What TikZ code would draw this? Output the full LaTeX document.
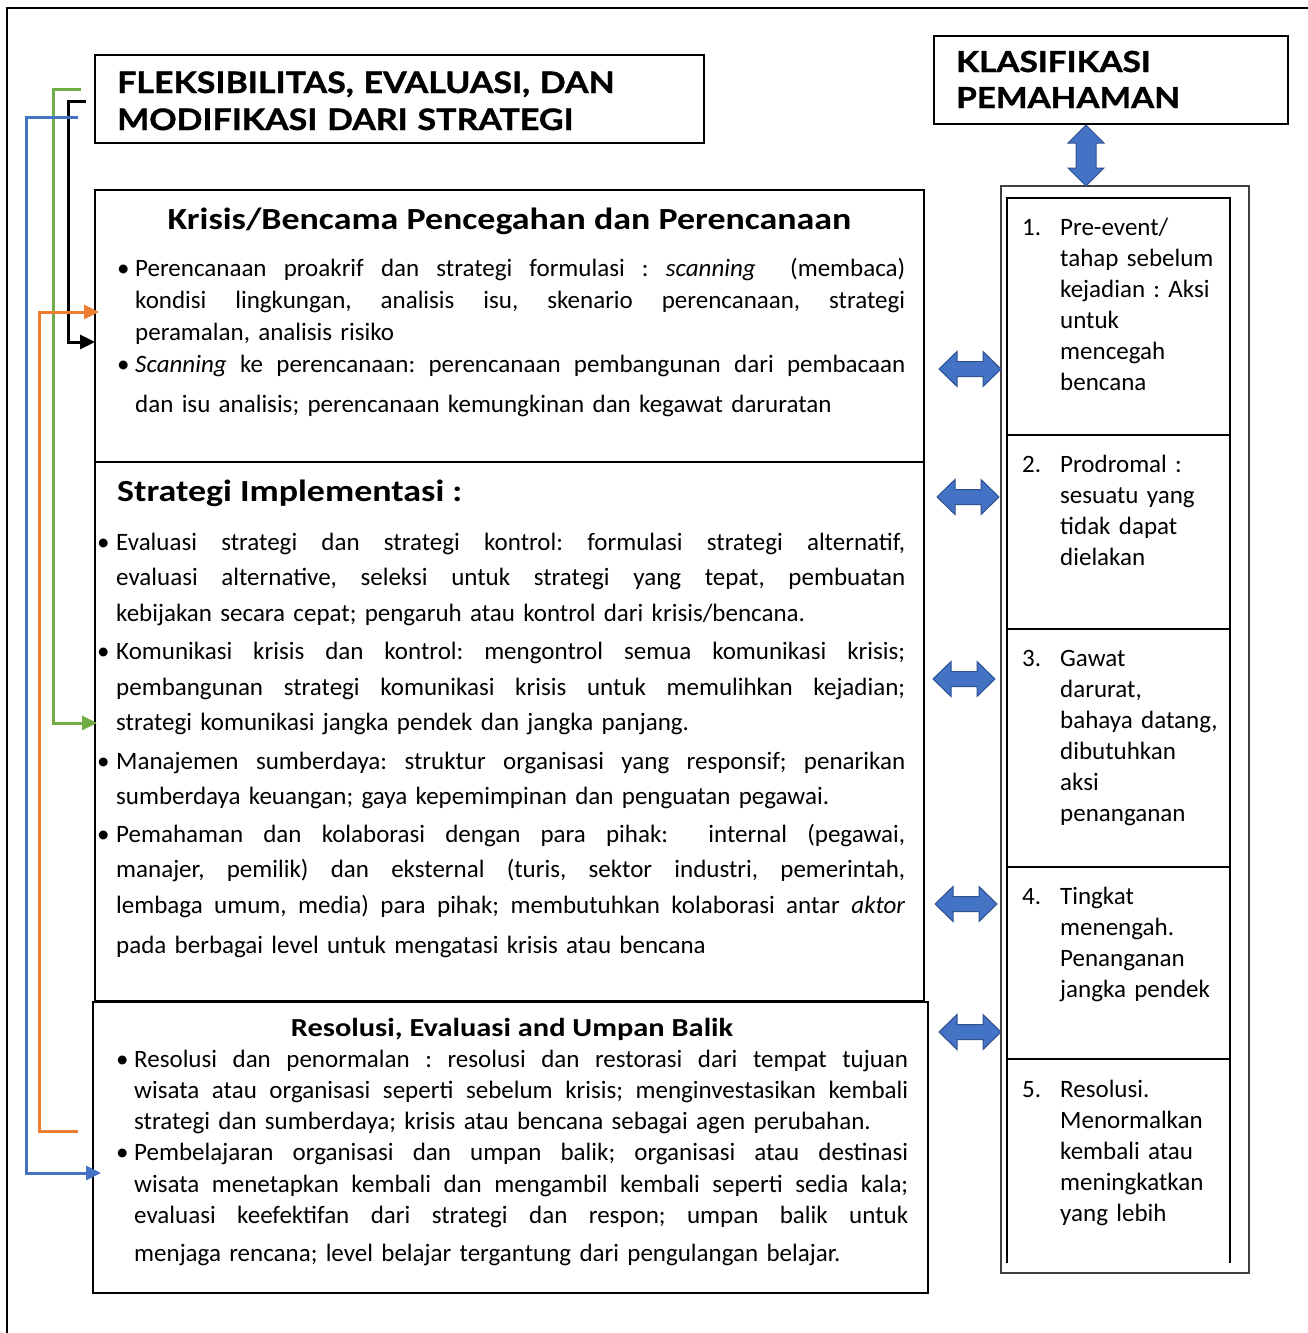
\documentclass[tikz,border=0pt]{standalone}
\usepackage{fontspec}
\setmainfont{Carlito}
\newfontfamily\capsfont{Lato}[FakeStretch=1.15, BoldFeatures={FakeBold=1.2}]
\newfontfamily\headfont{Carlito}[FakeStretch=1.17]
\usetikzlibrary{arrows.meta}
\definecolor{cgreen}{HTML}{70AD47}
\definecolor{corange}{HTML}{ED7D31}
\definecolor{cblue}{HTML}{4472C4}
\definecolor{cbluedark}{HTML}{2F528F}
\AtBeginDocument{\frenchspacing}
\newcommand\bul{\makebox[18pt][l]{\textbullet}}
\newcommand\J[2]{\hbox to #1{\frenchspacing\spaceskip=0pt\xspaceskip=0pt #2}}
\newcommand\hdarrow[3]{\filldraw[barrow] (#1,#3) -- ++(18,-17.5) -- ++(0,10) -- ++(#2-36,0) -- ++(0,-10) -- ++(18,17.5) -- ++(-18,17.5) -- ++(0,-10) -- ++(36-#2,0) -- ++(0,10) -- cycle;}
\tikzset{
  box/.style={draw, line width=1.6pt, inner sep=0, outer sep=0, anchor=north west},
  cellbox/.style={draw, line width=2.2pt, inner sep=0, outer sep=0, anchor=north west, minimum width=223pt},
  body/.style={anchor=base west, inner sep=0, text width=#1, align=left},
  conn/.style={line width=3pt, -{Triangle[length=15pt,width=14pt]}},
  barrow/.style={fill=cblue, draw=cbluedark, line width=1pt, line join=miter},
  headf/.style={font=\headfont\fontsize{30.7}{36}\selectfont\bfseries},
  capf/.style={font=\capsfont\fontsize{29.5}{37}\selectfont\bfseries}
}
\begin{document}
\begin{tikzpicture}[x=1pt,y=-1pt]
\useasboundingbox (0,0) rectangle (1307,1333);
\fill[white] (0,0) rectangle (1307,1333);
% outer frame
\draw[line width=2.5pt] (7,1340) -- (7,8) -- (1320,8);
% title boxes
\node[box, minimum width=609pt, minimum height=88pt] (T) at (95,55) {};
\node[anchor=base west, inner sep=0, capf, text width=580pt, align=left] (Tt) at (117,93) {FLEKSIBILITAS, EVALUASI, DAN\\MODIFIKASI DARI STRATEGI};
\node[box, minimum width=354pt, minimum height=88pt] (K) at (934,36) {};
\node[anchor=base west, inner sep=0, capf, font=\capsfont\fontsize{29}{36}\selectfont\bfseries, text width=330pt, align=left] (Kt) at (956,72) {KLASIFIKASI\\PEMAHAMAN};
% main boxes
\node[box, minimum width=829pt, minimum height=272pt] (B1) at (95,190) {};
\node[box, minimum width=829pt, minimum height=539pt] (B2) at (95,462) {};
\node[box, minimum width=835pt, minimum height=291pt] (B3) at (93,1002) {};
% box 1 text
\node[anchor=base, inner sep=0, headf] (B1h) at (509.5,229) {Krisis/Bencama Pencegahan dan Perencanaan};
\node[body=800pt, font=\fontsize{25}{32}\selectfont] (B1t) at (117,276) {%
\bul\J{770pt}{Perencanaan proakrif dan strategi formulasi : \textit{scanning}\ \ (membaca)}\\
\hspace*{18pt}\J{770pt}{kondisi lingkungan, analisis isu, skenario perencanaan, strategi}\\
\hspace*{18pt}peramalan, analisis risiko\\
\bul\J{770pt}{\textit{Scanning} ke perencanaan: perencanaan pembangunan dari pembacaan}\\[8pt]
\hspace*{18pt}dan isu analisis; perencanaan kemungkinan dan kegawat daruratan};
% box 2 text
\node[anchor=base west, inner sep=0, headf] (B2h) at (117,501) {Strategi Implementasi :};
\node[body=820pt, font=\fontsize{25}{35.5}\selectfont] (B2t) at (97,550) {%
\makebox[19pt][l]{\textbullet}\J{789pt}{Evaluasi strategi dan strategi kontrol: formulasi strategi alternatif,}\\
\hspace*{19pt}\J{789pt}{evaluasi alternative, seleksi untuk strategi yang tepat, pembuatan}\\
\hspace*{19pt}kebijakan secara cepat; pengaruh atau kontrol dari krisis/bencana.\\[3pt]
\makebox[19pt][l]{\textbullet}\J{789pt}{Komunikasi krisis dan kontrol: mengontrol semua komunikasi krisis;}\\
\hspace*{19pt}\J{789pt}{pembangunan strategi komunikasi krisis untuk memulihkan kejadian;}\\
\hspace*{19pt}strategi komunikasi jangka pendek dan jangka panjang.\\[3pt]
\makebox[19pt][l]{\textbullet}\J{789pt}{Manajemen sumberdaya: struktur organisasi yang responsif; penarikan}\\
\hspace*{19pt}sumberdaya keuangan; gaya kepemimpinan dan penguatan pegawai.\\[2pt]
\makebox[19pt][l]{\textbullet}\J{789pt}{Pemahaman dan kolaborasi dengan para pihak:\ \ internal (pegawai,}\\
\hspace*{19pt}\J{789pt}{manajer, pemilik) dan eksternal (turis, sektor industri, pemerintah,}\\
\hspace*{19pt}\J{789pt}{lembaga umum, media) para pihak; membutuhkan kolaborasi antar \textit{aktor}}\\[5pt]
\hspace*{19pt}pada berbagai level untuk mengatasi krisis atau bencana};
% box 3 text
\node[anchor=base, inner sep=0, font=\headfont\fontsize{26}{30}\selectfont\bfseries] (B3h) at (512,1036) {Resolusi, Evaluasi and Umpan Balik};
\node[body=810pt, font=\fontsize{25}{31.3}\selectfont] (B3t) at (116,1067) {%
\bul\J{774pt}{Resolusi dan penormalan : resolusi dan restorasi dari tempat tujuan}\\
\hspace*{18pt}\J{774pt}{wisata atau organisasi seperti sebelum krisis; menginvestasikan kembali}\\
\hspace*{18pt}strategi dan sumberdaya; krisis atau bencana sebagai agen perubahan.\\
\bul\J{774pt}{Pembelajaran organisasi dan umpan balik; organisasi atau destinasi}\\
\hspace*{18pt}\J{774pt}{wisata menetapkan kembali dan mengambil kembali seperti sedia kala;}\\
\hspace*{18pt}\J{774pt}{evaluasi keefektifan dari strategi dan respon; umpan balik untuk}\\[7pt]
\hspace*{18pt}menjaga rencana; level belajar tergantung dari pengulangan belajar.};
% right column
\node[box, draw=black!75, minimum width=248pt, minimum height=1087pt] (R) at (1001,186) {};
\node[cellbox, minimum height=237pt] (c1) at (1007,198) {};
\node[cellbox, minimum height=194pt] (c2) at (1007,435) {};
\node[cellbox, minimum height=238pt] (c3) at (1007,629) {};
\node[cellbox, minimum height=192pt] (c4) at (1007,867) {};
\node[cellbox, draw=none, minimum height=204pt] (c5) at (1007,1059) {};
\draw[line width=2.2pt] (c5.south west) -- (c5.north west) -- (c5.north east) -- (c5.south east);
\tikzset{cellt/.style={anchor=base west, inner sep=0, text width=210pt, align=left, font=\fontsize{25}{31}\selectfont}}
\node[cellt] (c1t) at (1022,235) {\makebox[38pt][l]{1.}Pre-event/\\\hspace*{38pt}tahap sebelum\\\hspace*{38pt}kejadian : Aksi\\\hspace*{38pt}untuk\\\hspace*{38pt}mencegah\\\hspace*{38pt}bencana};
\node[cellt] (c2t) at (1022,472) {\makebox[38pt][l]{2.}Prodromal :\\\hspace*{38pt}sesuatu yang\\\hspace*{38pt}tidak dapat\\\hspace*{38pt}dielakan};
\node[cellt] (c3t) at (1022,666) {\makebox[38pt][l]{3.}Gawat\\\hspace*{38pt}darurat,\\\hspace*{38pt}bahaya datang,\\\hspace*{38pt}dibutuhkan\\\hspace*{38pt}aksi\\\hspace*{38pt}penanganan};
\node[cellt] (c4t) at (1022,904) {\makebox[38pt][l]{4.}Tingkat\\\hspace*{38pt}menengah.\\\hspace*{38pt}Penanganan\\\hspace*{38pt}jangka pendek};
\node[cellt] (c5t) at (1022,1097) {\makebox[38pt][l]{5.}Resolusi.\\\hspace*{38pt}Menormalkan\\\hspace*{38pt}kembali atau\\\hspace*{38pt}meningkatkan\\\hspace*{38pt}yang lebih};
% block double arrows
\filldraw[barrow] (1086,125) -- ++(18,18) -- ++(-8,0) -- ++(0,25) -- ++(8,0) -- ++(-18,18) -- ++(-18,-18) -- ++(8,0) -- ++(0,-25) -- ++(-8,0) -- cycle;
\hdarrow{939}{62}{369}
\hdarrow{937}{62}{497}
\hdarrow{933}{62}{679}
\hdarrow{935}{62}{904}
\hdarrow{939}{62}{1032}
% feedback connectors
\coordinate (gS) at (81,89);  \coordinate (gE) at (97,723);
\coordinate (kS) at (86,101); \coordinate (kE) at (95,342);
\coordinate (bS) at (78,117); \coordinate (bE) at (101,1173);
\coordinate (oS) at (78,1131); \coordinate (oE) at (99,312);
\draw[conn, cgreen] (gS) -- (53,89) |- (gE);
\draw[conn, black] (kS) -- (68,101) |- (kE);
\draw[conn, cblue] (bS) -- (26,117) |- (bE);
\draw[conn, corange] (oS) -- (39,1131) |- (oE);
\end{tikzpicture}
\end{document}
